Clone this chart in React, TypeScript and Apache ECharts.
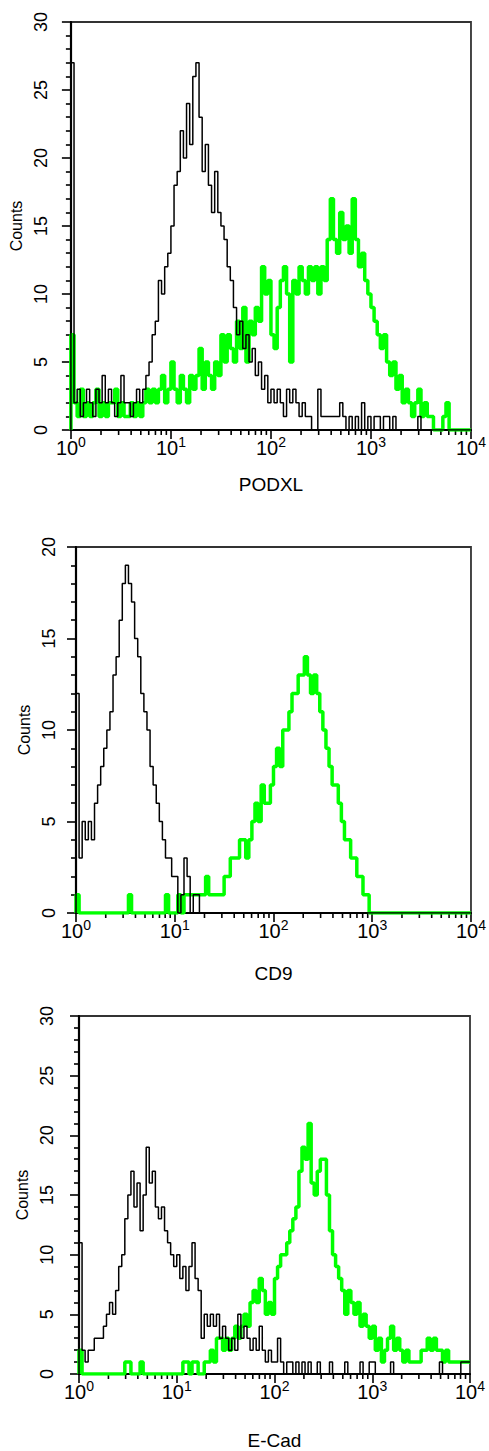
import React, { useEffect, useRef } from "react";
import * as echarts from "echarts";

// ---- data: counts per channel (32 channels per decade, 10^0 .. 10^4) ----
const CHANNELS_PER_DECADE = 32;
const DECADE_EXPONENTS = [0, 1, 2, 3, 4];
const MINOR_MULTIPLIERS = [2, 3, 4, 5, 6, 7, 8, 9];

const podxlControl = [
  27,
  2, 3, 1, 2, 3, 2, 1, 3, 2, 4, 2, 3, 2, 1, 2, 4, 2, 2, 1, 2, 3, 2,
  3, 4, 5, 7, 8, 11, 10, 12, 13,
  15, 18, 19, 22, 20, 24, 21, 26, 27, 23, 19, 21, 18, 16, 19, 16,
  15, 14, 12, 11, 9, 7, 8, 6, 7, 5, 6, 4, 5, 3, 4, 2,
  3, 2, 3, 2, 1, 3, 2, 3, 2, 1, 2, 1, 1, 0, 0, 3,
  1, 1, 1, 1, 1, 1, 2, 1, 0, 1, 0, 1, 0, 2, 0, 1,
  0, 1, 1, 0, 1, 1, 0, 1, 0, 0, 0, 0, 0, 0, 0, 1,
  0, 0, 0, 0, 0, 0, 0, 0, 0, 0, 0, 0, 0, 0, 0, 0,
];
const podxlStained = [
  7,
  2, 1, 3, 1, 2, 1, 2, 3, 1, 2, 1, 2, 2, 3, 1, 2, 1, 1, 2, 1, 2, 1, 2,
  3, 2, 3, 2, 3, 4, 2, 3,
  5, 3, 2, 4, 3, 2, 4, 3, 4, 6, 3, 5, 4, 3, 5, 4,
  7, 5, 7, 6, 5, 8, 6, 9, 5, 8, 7, 9, 8, 12, 10, 11,
  7, 6, 9, 11, 12, 10, 5, 11, 10, 12, 11, 10, 12, 11, 12, 10,
  12, 11, 14, 17, 14, 13, 16, 14, 15, 13, 17, 14, 12, 13, 11, 10,
  9, 8, 7, 6, 7, 5, 4, 5, 3, 4, 2, 3, 2, 1, 2, 3,
  1, 2, 1, 1, 0, 0, 0, 1, 2, 0, 0, 0, 0, 0, 0, 0,
];
const cd9Control = [
  12, 3, 5, 4, 5, 4, 6, 7, 8, 9, 10, 11, 13, 14, 16, 18,
  19, 18, 17, 15, 14, 12, 11, 10, 8, 7, 6, 5, 4, 3, 3, 2,
  2, 0, 1, 3, 2, 0, 1, 1, 0, 0, 0, 0, 0, 0, 0, 0,
  0, 0, 0, 0, 0, 0, 0, 0, 0, 0, 0, 0, 0, 0, 0, 0,
  0, 0, 0, 0, 0, 0, 0, 0, 0, 0, 0, 0, 0, 0, 0, 0,
  0, 0, 0, 0, 0, 0, 0, 0, 0, 0, 0, 0, 0, 0, 0, 0,
  0, 0, 0, 0, 0, 0, 0, 0, 0, 0, 0, 0, 0, 0, 0, 0,
  0, 0, 0, 0, 0, 0, 0, 0, 0, 0, 0, 0, 0, 0, 0, 0,
];
const cd9Stained = [
  1, 0, 0, 0, 0, 0, 0, 0, 0, 0, 0, 0, 0, 0, 0, 0,
  0, 1, 0, 0, 0, 0, 0, 0, 0, 0, 0, 0, 0, 1, 0, 0,
  0, 1, 0, 1, 1, 1, 1, 1, 1, 1, 2, 1, 1, 1, 1, 1,
  2, 2, 3, 3, 3, 4, 4, 3, 4, 5, 6, 5, 7, 6, 6, 7,
  8, 9, 8, 10, 10, 11, 12, 12, 13, 13, 14, 13, 12, 13, 12, 11,
  10, 9, 8, 7, 7, 6, 5, 4, 4, 3, 3, 2, 2, 1, 1, 0,
  0, 0, 0, 0, 0, 0, 0, 0, 0, 0, 0, 0, 0, 0, 0, 0,
  0, 0, 0, 0, 0, 0, 0, 0, 0, 0, 0, 0, 0, 0, 0, 0,
];
const ecadControl = [
  11, 2, 1, 2, 2, 3, 3, 3, 4, 5, 6, 5, 7, 9, 10, 13,
  15, 17, 14, 16, 12, 15, 19, 16, 17, 14, 13, 14, 12, 11, 10, 9,
  10, 8, 9, 7, 9, 11, 8, 7, 3, 5, 4, 5, 4, 5, 3, 4,
  3, 2, 3, 2, 5, 3, 4, 3, 2, 3, 2, 4, 2, 1, 2, 1,
  1, 3, 1, 0, 1, 1, 0, 1, 0, 1, 0, 1, 0, 0, 1, 0,
  0, 0, 1, 0, 0, 0, 0, 1, 0, 0, 0, 0, 1, 0, 0, 1,
  1, 0, 0, 0, 0, 0, 1, 0, 0, 0, 0, 0, 0, 0, 0, 0,
  0, 0, 0, 0, 0, 0, 1, 0, 0, 0, 0, 0, 0, 1, 1, 1,
];
const ecadStained = [
  2, 0, 0, 0, 0, 0, 0, 0, 0, 0, 0, 0, 0, 0, 0, 1,
  1, 0, 0, 0, 1, 0, 0, 0, 0, 0, 0, 0, 0, 0, 0, 0,
  0, 0, 1, 1, 0, 1, 1, 0, 0, 1, 1, 2, 1, 3, 3, 2,
  3, 2, 3, 4, 3, 4, 5, 4, 6, 7, 6, 8, 7, 5, 6, 5,
  8, 9, 10, 10, 11, 12, 13, 14, 17, 19, 18, 21, 16, 15, 17, 18,
  18, 15, 12, 10, 9, 8, 7, 5, 7, 6, 5, 6, 4, 5, 4, 3,
  4, 2, 3, 1, 2, 3, 4, 2, 3, 2, 1, 2, 1, 1, 1, 1,
  2, 2, 3, 2, 3, 2, 2, 1, 2, 1, 1, 1, 1, 1, 1, 1,
];

const markerNames = ["PODXL", "CD9", "E-Cad"];
const yMaxima = [30, 20, 30];
const controls = [podxlControl, cd9Control, ecadControl];
const staineds = [podxlStained, cd9Stained, ecadStained];

// ---- layout (pixels) ----
const layouts = [
  { left: 67, top: 22, width: 409, height: 408, yLabelMargin: 21, countsGap: 42, titleGap: 45 },
  { left: 76, top: 547, width: 396, height: 366, yLabelMargin: 18, countsGap: 40, titleGap: 51 },
  { left: 79, top: 1016, width: 391, height: 358, yLabelMargin: 23, countsGap: 47, titleGap: 57 },
];

const FONT = '"Liberation Sans", Arial, Helvetica, sans-serif';
const GREEN = "#00ff00";

function toSteps(values: number[]) {
  const pts: number[][] = [[0, 0]];
  values.forEach((v, i) => pts.push([i / CHANNELS_PER_DECADE, v]));
  pts.push([DECADE_EXPONENTS[DECADE_EXPONENTS.length - 1], values[values.length - 1]]);
  return pts;
}

const minorTickPositions = DECADE_EXPONENTS.slice(0, -1).flatMap((n) =>
  MINOR_MULTIPLIERS.map((m) => [n + Math.log10(m), 0])
);

export default function App() {
  const ref = useRef<HTMLDivElement>(null);

  useEffect(() => {
    if (!ref.current) return;
    const chart = echarts.init(ref.current, undefined, { renderer: "svg" });

    const grid = layouts.map((l) => ({
      left: l.left,
      top: l.top,
      width: l.width,
      height: l.height,
      show: true,
      borderColor: "#333",
      borderWidth: 1.8,
      backgroundColor: "transparent",
    }));

    const xAxis = layouts.map((l, k) => ({
      gridIndex: k,
      type: "value",
      min: 0,
      max: 4,
      interval: 1,
      axisLine: { show: true, onZero: false, lineStyle: { color: "#000", width: 2.2 } },
      axisTick: { show: true, inside: false, length: 9, lineStyle: { color: "#000", width: 1.6 } },
      axisLabel: {
        margin: 5,
        showMinLabel: true,
        showMaxLabel: true,
        formatter: (v: number) => `{a|10}{b|${v}}`,
        rich: {
          a: { fontSize: 20, fontFamily: FONT, color: "#000" },
          b: { fontSize: 14, fontFamily: FONT, color: "#000", padding: [0, 0, 12, 0] },
        },
      },
      splitLine: { show: false },
      name: markerNames[k],
      nameLocation: "middle",
      nameGap: l.titleGap,
      nameTextStyle: { fontSize: 19, color: "#000", fontFamily: FONT },
    }));

    const yAxis = layouts.map((l, k) => ({
      gridIndex: k,
      type: "value",
      min: 0,
      max: yMaxima[k],
      interval: 5,
      axisLine: { show: true, onZero: false, lineStyle: { color: "#000", width: 2.2 } },
      axisTick: { show: true, inside: false, length: 9, lineStyle: { color: "#000", width: 1.6 } },
      minorTick: { show: true, splitNumber: 5, length: 5, lineStyle: { color: "#000", width: 1.6 } },
      axisLabel: { rotate: 90, fontSize: 18, margin: l.yLabelMargin, color: "#000", fontFamily: FONT },
      splitLine: { show: false },
      minorSplitLine: { show: false },
      name: "Counts",
      nameLocation: "middle",
      nameRotate: 90,
      nameGap: l.countsGap,
      nameTextStyle: { fontSize: 16, color: "#000", fontFamily: FONT },
    }));

    const series: any[] = [];
    layouts.forEach((_l, k) => {
      series.push({
        type: "custom",
        xAxisIndex: k,
        yAxisIndex: k,
        clip: false,
        silent: true,
        data: minorTickPositions,
        encode: { x: 0, y: 1 },
        renderItem: (_p: any, api: any) => {
          const c = api.coord([api.value(0), 0]);
          return {
            type: "line",
            shape: { x1: c[0], y1: c[1], x2: c[0], y2: c[1] + 5 },
            style: { stroke: "#000", lineWidth: 1.6 },
          };
        },
      });
      series.push({
        type: "line",
        name: markerNames[k] + " stained",
        xAxisIndex: k,
        yAxisIndex: k,
        step: "end",
        symbol: "none",
        data: toSteps(staineds[k]),
        lineStyle: { color: GREEN, width: 3.5 },
        z: 3,
      });
      series.push({
        type: "line",
        name: markerNames[k] + " control",
        xAxisIndex: k,
        yAxisIndex: k,
        step: "end",
        symbol: "none",
        data: toSteps(controls[k]),
        lineStyle: { color: "#000", width: 1.5 },
        z: 4,
      });
    });

    chart.setOption({
      animation: false,
      backgroundColor: "#fff",
      textStyle: { fontFamily: FONT },
      grid,
      xAxis,
      yAxis,
      series,
    });

    return () => chart.dispose();
  }, []);

  return (
    <div
      ref={ref}
      style={{ position: "absolute", left: 0, top: 0, width: 489, height: 1451, background: "#fff" }}
    />
  );
}
